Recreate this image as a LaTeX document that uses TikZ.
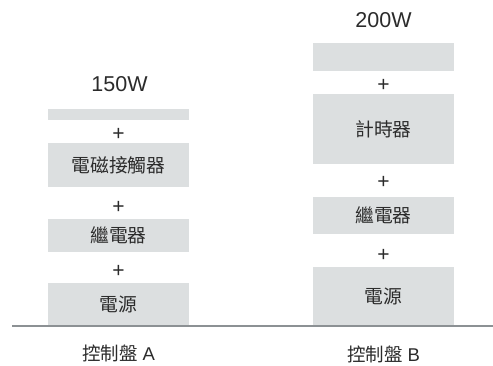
\documentclass[tikz,border=0pt]{standalone}
\usepackage{fontspec}
\setmainfont{Liberation Sans}
\newfontfamily\cjk{Noto Sans CJK TC}
\definecolor{boxgray}{HTML}{DCDFE0}
\definecolor{linegray}{HTML}{8C9194}
\definecolor{txt}{HTML}{2B2B2B}
\begin{document}
\begin{tikzpicture}[x=1pt,y=1pt,
  part/.style={fill=boxgray, draw=none, minimum width=141pt, inner sep=0pt, text=txt, font=\cjk\fontsize{18.8}{20}\selectfont},
  plus/.style={text=txt, inner sep=0pt, font=\fontsize{21}{22}\selectfont},
  watt/.style={text=txt, inner sep=0pt, font=\fontsize{21.5}{22}\selectfont},
  panel/.style={text=txt, inner sep=0pt, font=\fontsize{18.5}{20}\selectfont}]
\useasboundingbox (0,0) rectangle (493,365);
% Column A
\node[watt] (wa) at (119.5,281) {150W};
\node[part, minimum height=11pt] (a1) at (118.5,250.5) {};
\node[plus] (pa1) at (118.5,231) {+};
\node[part, minimum height=44pt] (a2) at (118.5,200) {電磁接觸器};
\node[plus] (pa2) at (118.5,158) {+};
\node[part, minimum height=33pt] (a3) at (118.5,129.5) {繼電器};
\node[plus] (pa3) at (118.5,94) {+};
\node[part, minimum height=42pt] (a4) at (118.5,61) {電源};
\node[panel] (la) at (118.5,12) {{\cjk 控制盤} A};
% Column B
\node[watt] (wb) at (383.5,345) {200W};
\node[part, minimum height=28pt] (b1) at (383.5,308) {};
\node[plus] (pb1) at (383.5,280) {+};
\node[part, minimum height=70pt] (b2) at (383.5,236) {計時器};
\node[plus] (pb2) at (383.5,183) {+};
\node[part, minimum height=37pt] (b3) at (383.5,149.5) {繼電器};
\node[plus] (pb3) at (383.5,110) {+};
\node[part, minimum height=58pt] (b4) at (383.5,69) {電源};
\node[panel] (lb) at (383.5,11) {{\cjk 控制盤} B};
% ground line
\coordinate (g0) at (12,39);
\coordinate (g1) at (493,39);
\draw[linegray, line width=2pt] (g0) -- (g1);
\end{tikzpicture}
\end{document}
